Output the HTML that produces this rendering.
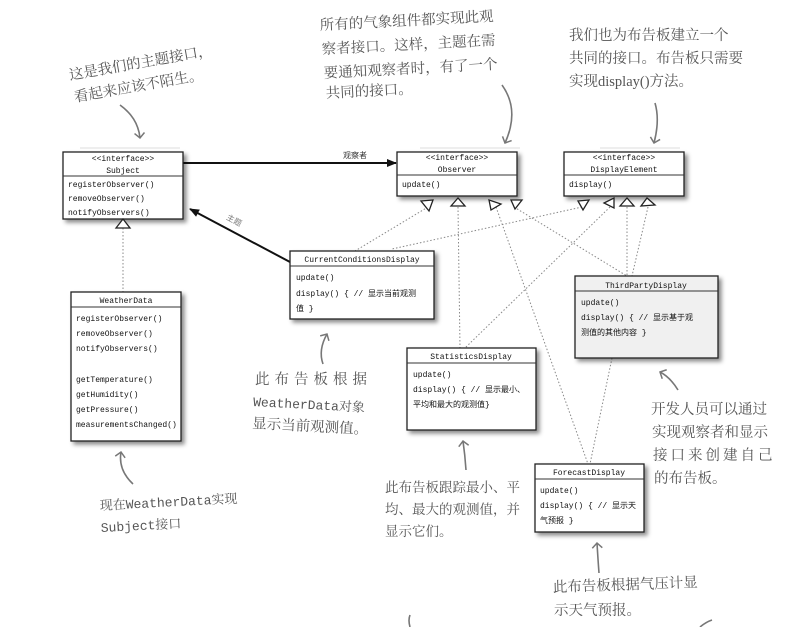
<!DOCTYPE html>
<html><head><meta charset="utf-8"><style>
html,body{margin:0;padding:0;background:#fff;width:805px;height:627px;overflow:hidden}
svg{display:block}
.m{font-family:"Liberation Mono","Noto Sans CJK SC",monospace;font-size:8px;fill:#111}
.h{font-family:"Liberation Serif","Noto Serif CJK SC",serif;font-size:14.5px;fill:#555}
.hm{font-family:"Liberation Mono","Noto Serif CJK SC",monospace;font-size:13px;fill:#555}
</style></head><body>
<svg width="805" height="627" viewBox="0 0 805 627" xmlns="http://www.w3.org/2000/svg">
<defs>
<filter id="sh" x="-10%" y="-10%" width="130%" height="130%"><feDropShadow dx="3" dy="3" stdDeviation="2" flood-color="#000" flood-opacity="0.45"/></filter>
<marker id="ar" markerWidth="10" markerHeight="8" refX="9" refY="4" orient="auto" markerUnits="userSpaceOnUse"><path d="M0,0 L10,4 L0,8 z" fill="#111"/></marker>
<marker id="ha" markerWidth="12" markerHeight="12" refX="6" refY="6" orient="auto" markerUnits="userSpaceOnUse"><path d="M1,1 L6,6 L1,11" fill="none" stroke="#777" stroke-width="1.5"/></marker>
</defs>

<g stroke="#888" stroke-width="1" stroke-dasharray="1.5,2" fill="none">
<line x1="123" y1="228" x2="123" y2="292"/>
<line x1="428" y1="207" x2="355" y2="251"/>
<line x1="582" y1="207" x2="392" y2="249"/>
<line x1="458" y1="207" x2="460" y2="348"/>
<line x1="610" y1="207" x2="465" y2="348"/>
<line x1="496" y1="207" x2="588" y2="464"/>
<line x1="514" y1="207" x2="627" y2="276"/>
<line x1="627" y1="207" x2="627" y2="276"/>
<line x1="648" y1="207" x2="632" y2="276"/>
<line x1="612" y1="358" x2="590" y2="464"/>
</g>

<line x1="183" y1="163" x2="396" y2="163" stroke="#111" stroke-width="2" marker-end="url(#ar)"/>
<text x="343" y="158" class="m" style="fill:#333">观察者</text>
<line x1="290" y1="262" x2="190" y2="209" stroke="#111" stroke-width="2" marker-end="url(#ar)"/>
<text x="226" y="222" class="m" style="fill:#777" transform="rotate(28 232 220)">主题</text>

<g filter="url(#sh)" stroke="#222" stroke-width="1.3">
<rect x="63" y="152" width="120" height="67" fill="#fff"/>
<rect x="397" y="152" width="120" height="44" fill="#fff"/>
<rect x="564" y="152" width="120" height="44" fill="#fff"/>
<rect x="290" y="251" width="144" height="68" fill="#fff"/>
<rect x="71" y="292" width="110" height="149" fill="#fff"/>
<rect x="575" y="276" width="143" height="82" fill="#f0f0f0"/>
<rect x="407" y="348" width="129" height="82" fill="#fff"/>
<rect x="535" y="464" width="109" height="68" fill="#fff"/>
</g>
<g stroke="#333" stroke-width="1">
<line x1="63" y1="176" x2="183" y2="176"/>
<line x1="397" y1="175" x2="517" y2="175"/>
<line x1="564" y1="175" x2="684" y2="175"/>
<line x1="290" y1="266" x2="434" y2="266"/>
<line x1="71" y1="307" x2="181" y2="307"/>
<line x1="575" y1="291" x2="718" y2="291"/>
<line x1="407" y1="363" x2="536" y2="363"/>
<line x1="535" y1="479" x2="644" y2="479"/>
</g>

<g fill="#fff" stroke="#222" stroke-width="1.3">
<path d="M116,228 L123,219 L130,228 z"/>
<path d="M421,201 L433,200 L429,211 z"/>
<path d="M451,206 L458,198 L465,206 z"/>
<path d="M489,200 L501,204 L491,210 z"/>
<path d="M511,200 L522,200 L515,209 z"/>
<path d="M578,201 L589,200 L583,210 z"/>
<path d="M604,203 L614,198 L614,208 z"/>
<path d="M620,206 L627,198 L634,206 z"/>
<path d="M641,206 L647,198 L655,205 z"/>
</g>

<g class="m">
<text x="123" y="161" text-anchor="middle">&lt;&lt;interface&gt;&gt;</text>
<text x="123" y="173" text-anchor="middle">Subject</text>
<text x="68" y="187">registerObserver()</text>
<text x="68" y="201">removeObserver()</text>
<text x="68" y="215">notifyObservers()</text>
<text x="457" y="160" text-anchor="middle">&lt;&lt;interface&gt;&gt;</text>
<text x="457" y="172" text-anchor="middle">Observer</text>
<text x="402" y="187">update()</text>
<text x="624" y="160" text-anchor="middle">&lt;&lt;interface&gt;&gt;</text>
<text x="624" y="172" text-anchor="middle">DisplayElement</text>
<text x="569" y="187">display()</text>
<text x="362" y="262" text-anchor="middle">CurrentConditionsDisplay</text>
<text x="296" y="280">update()</text>
<text x="296" y="296">display() { // 显示当前观测</text>
<text x="296" y="311">值 }</text>
<text x="126" y="303" text-anchor="middle">WeatherData</text>
<text x="76" y="321">registerObserver()</text>
<text x="76" y="336">removeObserver()</text>
<text x="76" y="351">notifyObservers()</text>
<text x="76" y="382">getTemperature()</text>
<text x="76" y="397">getHumidity()</text>
<text x="76" y="412">getPressure()</text>
<text x="76" y="427">measurementsChanged()</text>
<text x="646" y="288" text-anchor="middle">ThirdPartyDisplay</text>
<text x="581" y="305">update()</text>
<text x="581" y="320">display() { // 显示基于观</text>
<text x="581" y="335">测值的其他内容 }</text>
<text x="471" y="359" text-anchor="middle">StatisticsDisplay</text>
<text x="413" y="377">update()</text>
<text x="413" y="392">display() { // 显示最小、</text>
<text x="413" y="407">平均和最大的观测值}</text>
<text x="589" y="475" text-anchor="middle">ForecastDisplay</text>
<text x="540" y="493">update()</text>
<text x="540" y="508">display() { // 显示天</text>
<text x="540" y="523">气预报 }</text>
</g>

<g class="h">
<text transform="rotate(-10 70 80)" x="70" y="80">这是我们的主题接口，</text>
<text transform="rotate(-10 75 102)" x="75" y="102">看起来应该不陌生。</text>
<text transform="rotate(-3 320 30)" x="320" y="30">所有的气象组件都实现此观</text>
<text transform="rotate(-3 322 54)" x="322" y="54">察者接口。这样，主题在需</text>
<text transform="rotate(-3 324 78)" x="324" y="78">要通知观察者时，有了一个</text>
<text transform="rotate(-3 326 98)" x="326" y="98">共同的接口。</text>
<text x="569" y="40">我们也为布告板建立一个</text>
<text x="569" y="63">共同的接口。布告板只需要</text>
<text x="569" y="86">实现display()方法。</text>
<text x="255" y="384" letter-spacing="5">此布告板根据</text>
<text x="253" y="406" class="hm" transform="rotate(3 253 406)">WeatherData对象</text>
<text x="252" y="428" transform="rotate(3 252 428)">显示当前观测值。</text>
<text x="100" y="510" class="hm" transform="rotate(-3 100 510)">现在WeatherData实现</text>
<text x="101" y="532" class="hm" transform="rotate(-3 101 532)">Subject接口</text>
<text x="385" y="492" style="font-size:13.5px">此布告板跟踪最小、平</text>
<text x="385" y="514" style="font-size:13.5px">均、最大的观测值，并</text>
<text x="385" y="536" style="font-size:13.5px">显示它们。</text>
<text x="651" y="414">开发人员可以通过</text>
<text x="652" y="437">实现观察者和显示</text>
<text x="653" y="460" letter-spacing="3">接口来创建自己</text>
<text x="654" y="483">的布告板。</text>
<text x="553" y="592" transform="rotate(-2 553 592)">此布告板根据气压计显</text>
<text x="554" y="615">示天气预报。</text>
</g>

<g stroke="#777" stroke-width="1.6" fill="none">
<path d="M120,105 Q138,118 140,138" marker-end="url(#ha)"/>
<path d="M502,85 Q520,110 505,143" marker-end="url(#ha)"/>
<path d="M655,103 Q660,120 654,143" marker-end="url(#ha)"/>
<path d="M323,364 Q318,350 327,334" marker-end="url(#ha)"/>
<path d="M133,484 Q118,470 121,452" marker-end="url(#ha)"/>
<path d="M466,470 Q465,455 463,441" marker-end="url(#ha)"/>
<path d="M678,390 Q670,377 660,372" marker-end="url(#ha)"/>
<path d="M599,573 Q598,560 597,543" marker-end="url(#ha)"/>
<path d="M410,627 Q408,620 410,615"/>
<path d="M700,627 Q706,622 712,620"/>
</g>
<g stroke="#ddd" stroke-width="1">
<line x1="80" y1="148" x2="180" y2="148"/>
<line x1="420" y1="148" x2="520" y2="148"/>
<line x1="600" y1="148" x2="680" y2="148"/>
</g>
</svg>
</body></html>
